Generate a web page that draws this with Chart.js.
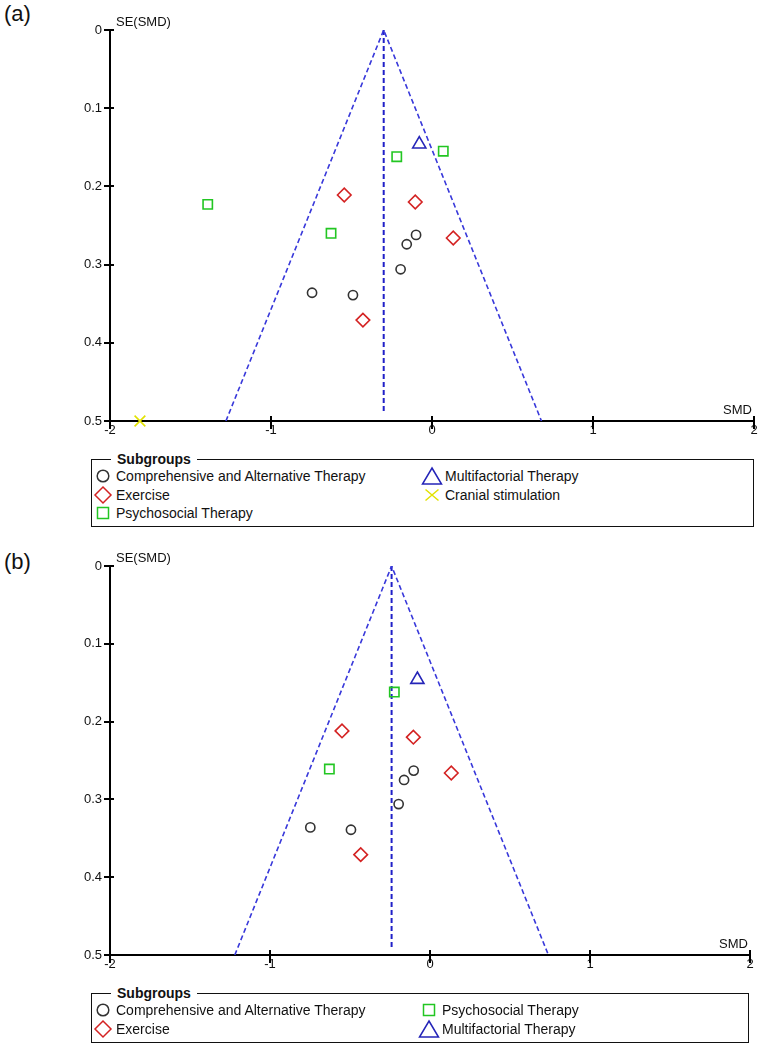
<!DOCTYPE html>
<html>
<head>
<meta charset="utf-8">
<script src="https://cdn.jsdelivr.net/npm/chart.js@4.4.1/dist/chart.umd.min.js"></script>
<style>
  html, body { margin: 0; padding: 0; background: #fff; }
  body { width: 764px; height: 1050px; position: relative; overflow: hidden; font-family: "Liberation Sans", Arial, sans-serif; color: #111; }
  .panel-label { position: absolute; left: 4px; font-size: 22px; line-height: 1; }
  .chart-box { position: absolute; left: 0; width: 764px; height: 450px; }
  .legend { position: absolute; border: 1.5px solid #111; box-sizing: border-box; }
  .legend .title { position: absolute; top: -9px; left: 19px; padding: 0 6px; background: #fff; font-weight: bold; font-size: 14px; line-height: 16px; }
  .legend .item { position: absolute; font-size: 14px; line-height: 18px; white-space: nowrap; }
  .legend svg { position: absolute; }
</style>
</head>
<body>
<div class="panel-label" style="top: 3px;">(a)</div>
<div class="chart-box" style="top: 0;"><canvas id="chartA" width="764" height="450"></canvas></div>
<div class="legend" id="legendA" style="left: 91px; top: 459px; width: 663px; height: 68px;"></div>

<div class="panel-label" style="top: 551px;">(b)</div>
<div class="chart-box" style="top: 536px;"><canvas id="chartB" width="764" height="450"></canvas></div>
<div class="legend" id="legendB" style="left: 91px; top: 993px; width: 658px; height: 50px;"></div>

<script>
// axis ticks
const seTicks = [0, 0.1, 0.2, 0.3, 0.4, 0.5];
const smdTicks = [-2, -1, 0, 1, 2];

// subgroups (same order as the legends)
const groupNames = ['Comprehensive and Alternative Therapy', 'Exercise', 'Psychosocial Therapy', 'Multifactorial Therapy', 'Cranial stimulation'];

// panel (a) - SMD and SE(SMD) per study
const compSmdA = [-0.745, -0.491, -0.099, -0.157, -0.195];
const compSeA = [0.336, 0.339, 0.262, 0.274, 0.306];
const exerSmdA = [-0.545, -0.104, 0.132, -0.429];
const exerSeA = [0.211, 0.220, 0.266, 0.371];
const psySmdA = [-1.393, -0.219, 0.070, -0.627];
const psySeA = [0.223, 0.162, 0.155, 0.260];
const multiSmdA = [-0.079];
const multiSeA = [0.146];
const cranSmdA = [-1.814];
const cranSeA = [0.500];
const funnelSmdA = [-1.28, -0.30, 0.68];
const funnelSeA = [0.5, 0, 0.5];

// panel (b)
const compSmdB = [-0.748, -0.494, -0.102, -0.162, -0.196];
const compSeB = [0.336, 0.339, 0.263, 0.275, 0.306];
const exerSmdB = [-0.550, -0.104, 0.133, -0.433];
const exerSeB = [0.212, 0.220, 0.266, 0.371];
const psySmdB = [-0.223, -0.629];
const psySeB = [0.162, 0.261];
const multiSmdB = [-0.079];
const multiSeB = [0.146];
const funnelSmdB = [-1.22, -0.24, 0.74];
const funnelSeB = [0.5, 0, 0.5];

const styles = [
    { color: '#333333', marker: 'circle', radius: 4.6 },
    { color: '#d42222', marker: 'rectRot', radius: 6.8 },
    { color: '#22c622', marker: 'rect', radius: 6.6 },
    { color: '#2424b8', marker: 'triangle', radius: 7.6 },
    { color: '#e2e200', marker: 'crossRot', radius: 7.6 }
];
const funnelColor = '#3838da';
const fontFamily = '"Liberation Sans", Arial, sans-serif';

function toPoints(xs, ys) {
    return xs.map((x, i) => ({ x: x, y: ys[i] }));
}

// tick marks crossing the axes and the two axis captions
const decor = {
    id: 'decor',
    afterDraw(chart) {
        const { ctx, chartArea: a, scales: { x, y } } = chart;
        ctx.save();
        ctx.strokeStyle = '#000';
        ctx.lineWidth = 2;
        ctx.beginPath();
        smdTicks.forEach(v => {
            const px = Math.round(x.getPixelForValue(v));
            ctx.moveTo(px, a.bottom - 5);
            ctx.lineTo(px, a.bottom + 8);
        });
        seTicks.forEach(v => {
            const py = Math.round(y.getPixelForValue(v));
            ctx.moveTo(a.left - 6, py);
            ctx.lineTo(a.left + 4, py);
        });
        ctx.stroke();
        ctx.fillStyle = '#111';
        ctx.font = '13px ' + fontFamily;
        ctx.textAlign = 'left';
        ctx.textBaseline = 'middle';
        ctx.fillText('SE(SMD)', a.left + 6, a.top - 8);
        ctx.textAlign = 'right';
        ctx.fillText('SMD', a.right - 2, a.bottom - 11);
        ctx.restore();
    }
};

function makeChart(id, groups, funnelSmd, funnelSe, rightPad, xHeight) {
    const pooled = funnelSmd[1];
    const datasets = [];
    groups.forEach((g, i) => {
        if (!g) return;
        const s = styles[i];
        datasets.push({
            label: groupNames[i],
            data: toPoints(g[0], g[1]),
            pointStyle: s.marker,
            pointRadius: s.radius,
            pointHoverRadius: s.radius,
            pointBorderColor: s.color,
            pointBackgroundColor: 'rgba(0,0,0,0)',
            pointBorderWidth: 1.6,
            showLine: false,
            clip: false
        });
    });
    datasets.push({
        label: 'limits',
        data: toPoints(funnelSmd, funnelSe),
        showLine: true,
        borderColor: funnelColor,
        borderWidth: 1.6,
        borderDash: [5, 3],
        pointRadius: 0,
        fill: false
    });
    datasets.push({
        label: 'pooled',
        data: [{ x: pooled, y: 0 }, { x: pooled, y: 0.49 }],
        showLine: true,
        borderColor: '#2020c8',
        borderWidth: 2,
        borderDash: [5, 3],
        pointRadius: 0,
        fill: false
    });

    return new Chart(document.getElementById(id).getContext('2d'), {
        type: 'scatter',
        data: { datasets: datasets },
        plugins: [decor],
        options: {
            responsive: false,
            animation: false,
            devicePixelRatio: 1,
            layout: { padding: { top: 30, right: rightPad, bottom: 0, left: 0 } },
            plugins: { legend: { display: false }, tooltip: { enabled: false } },
            scales: {
                x: {
                    type: 'linear',
                    min: -2,
                    max: 2,
                    afterBuildTicks: scale => { scale.ticks = smdTicks.map(v => ({ value: v })); },
                    afterFit: scale => { scale.height = xHeight; },
                    grid: { display: false, drawTicks: false },
                    border: { display: true, color: '#000', width: 2 },
                    ticks: { color: '#111', padding: 2, font: { size: 13, family: fontFamily }, callback: v => String(v) }
                },
                y: {
                    type: 'linear',
                    reverse: true,
                    min: 0,
                    max: 0.5,
                    afterBuildTicks: scale => { scale.ticks = seTicks.map(v => ({ value: v })); },
                    afterFit: scale => { scale.width = 110; },
                    grid: { display: false, drawTicks: false },
                    border: { display: true, color: '#000', width: 2 },
                    ticks: { color: '#111', padding: 8, font: { size: 13, family: fontFamily }, callback: v => String(v) }
                }
            }
        }
    });
}

function symbolSvg(i) {
    const c = styles[i].color;
    const a = 'fill="none" stroke="' + c + '" stroke-width="1.5"';
    let body = '';
    if (i === 0) body = '<circle cx="11" cy="10" r="5.8" ' + a + '/>';
    if (i === 1) body = '<polygon points="11,2 19,10 11,18 3,10" ' + a + '/>';
    if (i === 2) body = '<rect x="5.5" y="4.5" width="11" height="11" ' + a + '/>';
    if (i === 3) body = '<polygon points="11,2 20.5,18 1.5,18" ' + a + '/>';
    if (i === 4) body = '<path d="M4.5 4.5 L17.5 15.5 M17.5 4.5 L4.5 15.5" ' + a + '/>';
    return '<svg width="22" height="20" viewBox="0 0 22 20">' + body + '</svg>';
}

function makeLegend(id, members, rows, col2) {
    const box = document.getElementById(id);
    let html = '<span class="title">Subgroups</span>';
    members.forEach((g, k) => {
        const col = Math.floor(k / rows);
        const row = k % rows;
        const cy = 7 + row * 18.5;
        const sx = col === 0 ? 0 : col2;
        html += '<div class="item" style="left:' + sx + 'px; top:' + (cy - 1) + 'px; height:20px;">' +
            '<span style="position:absolute; left:0; top:0;">' + symbolSvg(g) + '</span>' +
            '<span style="position:absolute; left:24px; top:1px;">' + groupNames[g] + '</span></div>';
    });
    box.innerHTML = html;
}

makeChart('chartA', [
    [compSmdA, compSeA],
    [exerSmdA, exerSeA],
    [psySmdA, psySeA],
    [multiSmdA, multiSeA],
    [cranSmdA, cranSeA]
], funnelSmdA, funnelSeA, 10, 29);

makeChart('chartB', [
    [compSmdB, compSeB],
    [exerSmdB, exerSeB],
    [psySmdB, psySeB],
    [multiSmdB, multiSeB],
    null
], funnelSmdB, funnelSeB, 14, 31);

makeLegend('legendA', [0, 1, 2, 3, 4], 3, 329);
makeLegend('legendB', [0, 1, 2, 3], 2, 326);
</script>
</body>
</html>
